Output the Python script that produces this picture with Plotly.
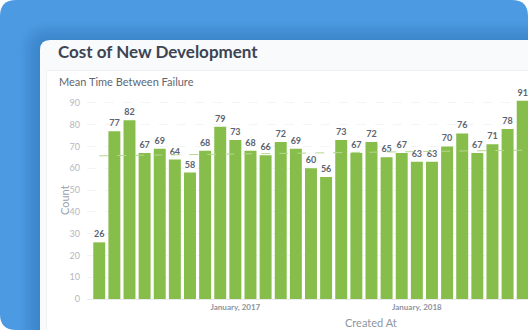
import plotly.graph_objects as go

# Monthly counts, April 2016 .. August 2018
months = [
    "2016-04", "2016-05", "2016-06", "2016-07", "2016-08", "2016-09",
    "2016-10", "2016-11", "2016-12", "2017-01", "2017-02", "2017-03",
    "2017-04", "2017-05", "2017-06", "2017-07", "2017-08", "2017-09",
    "2017-10", "2017-11", "2017-12", "2018-01", "2018-02", "2018-03",
    "2018-04", "2018-05", "2018-06", "2018-07", "2018-08",
]
counts = [26, 77, 82, 67, 69, 64, 58, 68, 79, 73, 68, 66, 72, 69, 60,
          56, 73, 67, 72, 65, 67, 63, 63, 70, 76, 67, 71, 78, 91]

# Trend line end points (first and last month)
trend_x = [months[0], months[-1]]
trend_y = [65.7, 68.3]

tick_vals = ["2017-01", "2018-01"]
tick_text = ["January, 2017", "January, 2018"]
y_ticks = [0, 10, 20, 30, 40, 50, 60, 70, 80, 90]

W, H = 528, 330
ML, MR, MT, MB = 87, 0, 92, 31
PW, PH = W - ML - MR, H - MT - MB


def px(x):
    return (x - ML) / PW


def py(y):
    return (H - MB - y) / PH


def rrect(x0, y0, x1, y1, r):
    pts = [
        f"M{px(x0 + r)},{py(y0)}",
        f"L{px(x1 - r)},{py(y0)}",
        f"Q{px(x1)},{py(y0)} {px(x1)},{py(y0 + r)}",
        f"L{px(x1)},{py(y1 - r)}",
        f"Q{px(x1)},{py(y1)} {px(x1 - r)},{py(y1)}",
        f"L{px(x0 + r)},{py(y1)}",
        f"Q{px(x0)},{py(y1)} {px(x0)},{py(y1 - r)}",
        f"L{px(x0)},{py(y0 + r)}",
        f"Q{px(x0)},{py(y0)} {px(x0 + r)},{py(y0)}",
        "Z",
    ]
    return " ".join(pts)


shapes = []
# blue backdrop
shapes.append(dict(type="path", xref="paper", yref="paper", layer="below",
                   path=rrect(0, 0, W, H, 16), fillcolor="#4c9be2",
                   line=dict(width=0)))
# soft shadow round the card
for i in range(8, 0, -1):
    d = i * 2.5
    shapes.append(dict(type="path", xref="paper", yref="paper", layer="below",
                       path=rrect(40 - d, 40 - d + 2, W + 60, H + 60, 10 + d),
                       fillcolor="rgba(30,80,150,0.035)", line=dict(width=0)))
# card
shapes.append(dict(type="path", xref="paper", yref="paper", layer="below",
                   path=rrect(40, 40, W + 60, H + 60, 10), fillcolor="#f8fafc",
                   line=dict(width=0)))
# inner chart panel
shapes.append(dict(type="path", xref="paper", yref="paper", layer="below",
                   path=rrect(46.5, 70.5, W + 60, H + 60, 3), fillcolor="#ffffff",
                   line=dict(width=1, color="#eff1f4")))

fig = go.Figure()
fig.add_trace(go.Bar(
    x=months, y=counts, marker=dict(color="#86bd4b", line=dict(width=0)),
    text=counts, textposition="outside", cliponaxis=False,
    textfont=dict(family="Lato", size=9, color="#5b6370", weight="bold"),
    hoverinfo="x+y",
))
fig.add_trace(go.Scatter(
    x=trend_x, y=trend_y, mode="lines",
    line=dict(color="#b6d88f", width=1, dash="dash"), hoverinfo="skip",
))

fig.update_layout(
    width=W, height=H,
    margin=dict(l=ML, r=MR, t=MT, b=MB, pad=0),
    paper_bgcolor="#ffffff", plot_bgcolor="rgba(0,0,0,0)",
    showlegend=False, bargap=0.21,
    font=dict(family="Lato", color="#8f96a0"),
    shapes=shapes,
    xaxis=dict(type="category", range=[-0.81, 28.35],
               tickmode="array", tickvals=tick_vals, ticktext=tick_text,
               tickfont=dict(size=8, color="#8d949e", weight="bold"),
               showgrid=False, showline=True, linecolor="#e8eaee",
               linewidth=1, ticks="", zeroline=False, fixedrange=True),
    yaxis=dict(range=[0, 95], tickmode="array", tickvals=y_ticks,
               tickfont=dict(size=9, color="#b3b8bf"),
               showgrid=True, gridcolor="#f3f4f6", griddash="dash",
               gridwidth=1, zeroline=False, ticks="", ticklabelstandoff=6,
               showline=False, fixedrange=True),
    annotations=[
        dict(text="<b>Cost of New Development</b>", xref="paper", yref="paper",
             x=px(56), y=py(51), xanchor="left", yanchor="middle",
             showarrow=False, font=dict(family="Lato", size=17, color="#3d4452")),
        dict(text="Mean Time Between Failure", xref="paper", yref="paper",
             x=px(57), y=py(81), xanchor="left", yanchor="middle",
             showarrow=False, font=dict(family="Lato", size=11, color="#5f6773")),
        dict(text="Count", xref="paper", yref="paper", textangle=-90,
             x=px(64), y=py(200), xanchor="center", yanchor="middle",
             showarrow=False, font=dict(family="Lato", size=11, color="#9ba1aa")),
        dict(text="Created At", xref="paper", yref="paper",
             x=px(371), y=py(322), xanchor="center", yanchor="middle",
             showarrow=False, font=dict(family="Lato", size=11, color="#8f96a0")),
    ],
)

fig.write_html("out.html")
